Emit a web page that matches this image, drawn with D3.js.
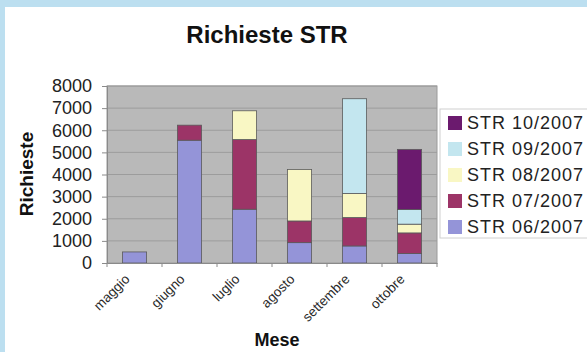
<!DOCTYPE html>
<html>
<head>
<meta charset="utf-8">
<script src="https://cdn.jsdelivr.net/npm/d3@7"></script>
<style>
  html, body { margin: 0; padding: 0; background: #fff; }
  svg { display: block; font-family: "Liberation Sans", Arial, sans-serif; }
</style>
</head>
<body>
<svg id="chart" width="587" height="352"></svg>
<script>
// Monthly STR requests, split by the STR batch they belong to
const months = ["maggio", "giugno", "luglio", "agosto", "settembre", "ottobre"];
const seriesNames = ["STR 06/2007", "STR 07/2007", "STR 08/2007", "STR 09/2007", "STR 10/2007"];
const str06 = [500, 5550, 2430, 920, 770, 425];
const str07 = [0, 680, 3150, 980, 1285, 935];
const str08 = [0, 0, 1300, 2330, 1085, 395];
const str09 = [0, 0, 0, 0, 4285, 665];
const str10 = [0, 0, 0, 0, 0, 2715];
const yTicks = [0, 1000, 2000, 3000, 4000, 5000, 6000, 7000, 8000];
const colors = ["#9494d8", "#9c3467", "#f9f7c4", "#c3e6ef", "#6b1a6e"];

const seriesValues = [str06, str07, str08, str09, str10];
const rows = months.map((m, i) => {
  const r = { month: m };
  seriesNames.forEach((s, k) => { r[s] = seriesValues[k][i]; });
  return r;
});

const svg = d3.select("#chart");
const W = 587, H = 352;
const plot = { left: 107, right: 437, top: 86, bottom: 263 };

// light blue frame along the top and left edges
svg.append("rect").attr("x", 0).attr("y", 0).attr("width", W).attr("height", H).attr("fill", "#fff");
svg.append("rect").attr("x", 0).attr("y", 0).attr("width", W).attr("height", 7).attr("fill", "#bcdff0");
svg.append("rect").attr("x", 0).attr("y", 0).attr("width", 5).attr("height", H).attr("fill", "#bcdff0");

const x = d3.scaleBand().domain(months).range([plot.left, plot.right])
  .paddingInner(0.56).paddingOuter(0.28);
const y = d3.scaleLinear().domain([0, 8000]).range([plot.bottom, plot.top]);

// plot background
svg.append("rect")
  .attr("x", plot.left).attr("y", plot.top)
  .attr("width", plot.right - plot.left).attr("height", plot.bottom - plot.top)
  .attr("fill", "#b9b9b9").attr("stroke", "#9a9a9a").attr("stroke-width", 1);

// horizontal gridlines
svg.append("g").selectAll("line").data(yTicks.slice(1)).join("line")
  .attr("x1", plot.left).attr("x2", plot.right)
  .attr("y1", d => y(d)).attr("y2", d => y(d))
  .attr("stroke", "#9c9c9c").attr("stroke-width", 1);

// y axis
const yAxis = svg.append("g").attr("transform", `translate(${plot.left},0)`)
  .call(d3.axisLeft(y).tickValues(yTicks).tickSize(5).tickPadding(10).tickFormat(d3.format("d")));
yAxis.select(".domain").attr("stroke", "#8a8a8a");
yAxis.selectAll(".tick line").attr("stroke", "#8a8a8a");
yAxis.selectAll(".tick text").attr("font-size", 18).attr("fill", "#222")
  .attr("font-family", "Liberation Sans, Arial, sans-serif");

// stacked bars
const stack = d3.stack().keys(seriesNames);
const layers = stack(rows);
svg.append("g").selectAll("g").data(layers).join("g")
  .attr("fill", (d, i) => colors[i])
  .selectAll("rect").data(d => d.filter(p => p[1] - p[0] > 0)).join("rect")
  .attr("x", d => x(d.data.month))
  .attr("width", x.bandwidth())
  .attr("y", d => y(d[1]))
  .attr("height", d => y(d[0]) - y(d[1]))
  .attr("stroke", "#5a5a5a").attr("stroke-width", 0.8);

// x axis
const xAxis = svg.append("g").attr("transform", `translate(0,${plot.bottom})`)
  .call(d3.axisBottom(x).tickSize(0).tickPadding(0));
xAxis.select(".domain").attr("stroke", "#8a8a8a");
xAxis.selectAll(".tick text")
  .attr("font-size", 13.5).attr("fill", "#2a2a2a")
  .attr("font-family", "Liberation Sans, Arial, sans-serif")
  .attr("text-anchor", "end")
  .attr("dy", 0)
  .attr("transform", "translate(-4,17) rotate(-45)");
// small tick marks between categories
svg.append("g").selectAll("line").data(d3.range(months.length + 1)).join("line")
  .attr("x1", i => plot.left + i * x.step()).attr("x2", i => plot.left + i * x.step())
  .attr("y1", plot.bottom).attr("y2", plot.bottom + 4)
  .attr("stroke", "#8a8a8a");

// titles
svg.append("text").attr("x", 267).attr("y", 43).attr("text-anchor", "middle")
  .attr("font-size", 24).attr("font-weight", "bold").attr("fill", "#111")
  .text("Richieste STR");
svg.append("text").attr("transform", "translate(33,174) rotate(-90)")
  .attr("text-anchor", "middle").attr("font-size", 19).attr("font-weight", "bold").attr("fill", "#111")
  .text("Richieste");
svg.append("text").attr("x", 277).attr("y", 346).attr("text-anchor", "middle")
  .attr("font-size", 18).attr("font-weight", "bold").attr("fill", "#111")
  .text("Mese");

// legend, newest batch on top
const legend = svg.append("g");
legend.append("rect").attr("x", 440).attr("y", 109).attr("width", 170).attr("height", 129)
  .attr("fill", "#fff").attr("stroke", "#d0d0d0");
const legendOrder = seriesNames.map((s, i) => ({ name: s, color: colors[i] })).reverse();
const li = legend.selectAll("g.item").data(legendOrder).join("g").attr("class", "item")
  .attr("transform", (d, i) => `translate(448,${123 + i * 26})`);
li.append("rect").attr("x", 0).attr("y", -7).attr("width", 14).attr("height", 14)
  .attr("fill", d => d.color);
li.append("text").attr("x", 19).attr("y", 0).attr("dy", "0.36em")
  .attr("font-size", 18).attr("fill", "#222").attr("letter-spacing", 1)
  .text(d => d.name);
</script>
</body>
</html>
